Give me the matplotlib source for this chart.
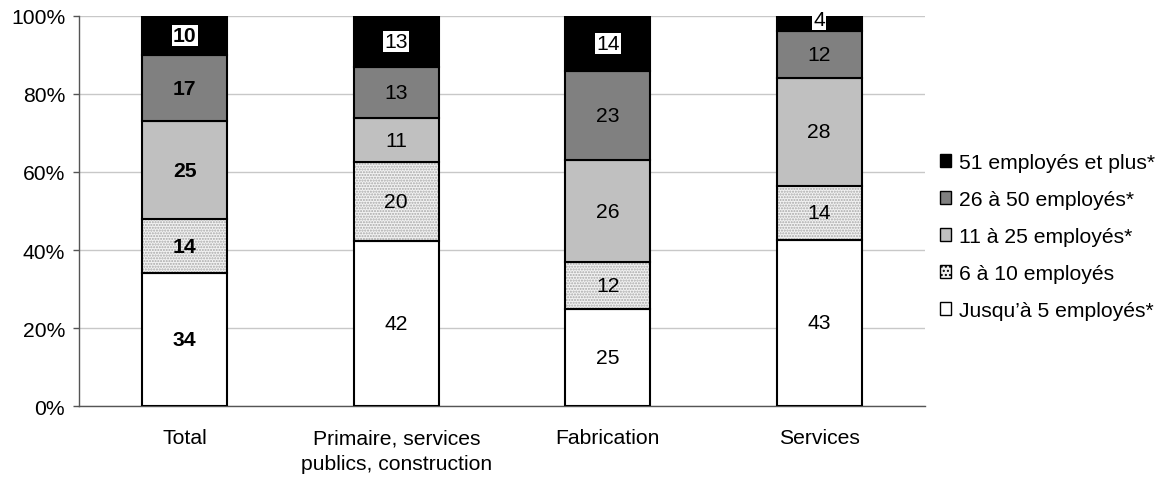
import matplotlib
matplotlib.use("Agg")
import matplotlib.pyplot as plt
from matplotlib.patches import Patch
import numpy as np

plt.rcParams['font.family'] = ['Liberation Sans', 'DejaVu Sans']

categories = ["Total", "Primaire, services\npublics, construction", "Fabrication", "Services"]
series_names = ["Jusqu’à 5 employés*", "6 à 10 employés", "11 à 25 employés*",
                "26 à 50 employés*", "51 employés et plus*"]
jusqua_5 = [34, 42, 25, 43]
de_6_a_10 = [14, 20, 12, 14]
de_11_a_25 = [25, 11, 26, 28]
de_26_a_50 = [17, 13, 23, 12]
plus_51 = [10, 13, 14, 4]

series = [jusqua_5, de_6_a_10, de_11_a_25, de_26_a_50, plus_51]
facecolors = ["white", "#f2f2f2", "#c0c0c0", "#808080", "black"]
FS = 15.2

fig = plt.figure(figsize=(11.66, 4.81), dpi=100)
ax = fig.add_axes([0.0678, 0.1538, 0.7255, 0.8109])

vals = np.array(series, dtype=float)
totals = vals.sum(axis=0)
shares = vals / totals * 100
x = np.arange(len(categories))
width = 0.4
bottom = np.zeros(len(categories))

for i, (name, share) in enumerate(zip(series_names, shares)):
    if i == 1:
        # stippled segment: dotted fill drawn first, then the black outline
        ax.bar(x, share, width, bottom=bottom, color=facecolors[i],
               edgecolor="#a8a8a8", hatch="......", linewidth=0, zorder=2)
        ax.bar(x, share, width, bottom=bottom, fill=False,
               edgecolor="black", linewidth=1.5, zorder=3)
    else:
        ax.bar(x, share, width, bottom=bottom, color=facecolors[i],
               edgecolor="black", linewidth=1.5, zorder=3)
    for j in range(len(categories)):
        yc = bottom[j] + share[j] / 2
        weight = "bold" if j == 0 else "normal"
        kw = {}
        if i == 4:
            kw["bbox"] = dict(boxstyle="square,pad=0.05", facecolor="white",
                              edgecolor="none")
            if series[i][j] < 6:
                yc = bottom[j] + share[j] - 1.0
        ax.text(x[j], yc, str(series[i][j]), ha="center", va="center",
                fontsize=FS, fontweight=weight, color="black", zorder=5, **kw)
    bottom += share

ax.set_xlim(-0.5, len(categories) - 0.5)
ax.set_ylim(0, 100)
ax.set_yticks(np.arange(0, 101, 20))
ax.set_yticklabels([f"{v}%" for v in range(0, 101, 20)], fontsize=FS)
ax.set_xticks(x)
ax.set_xticklabels(categories, fontsize=FS, linespacing=1.45)
ax.tick_params(axis="x", length=0, pad=16)
ax.tick_params(axis="y", length=4, width=1, color="#555555", pad=6)
ax.yaxis.grid(True, color="#c8c8c8", linewidth=1)
ax.set_axisbelow(True)
for s in ["top", "right"]:
    ax.spines[s].set_visible(False)
for s in ["left", "bottom"]:
    ax.spines[s].set_color("#555555")
    ax.spines[s].set_linewidth(1)

handles = []
for i in range(len(series_names)):
    if i == 1:
        handles.append(Patch(facecolor=facecolors[i], edgecolor="black",
                             hatch="....", linewidth=1))
    else:
        handles.append(Patch(facecolor=facecolors[i], edgecolor="black", linewidth=1))
leg = fig.legend(handles[::-1], series_names[::-1], loc="center left",
                 bbox_to_anchor=(0.806, 0.506), frameon=False, fontsize=FS,
                 handlelength=0.55, handleheight=0.55, handletextpad=0.35,
                 labelspacing=0.85, borderpad=0, borderaxespad=0)

fig.savefig("out.png", dpi=100)
